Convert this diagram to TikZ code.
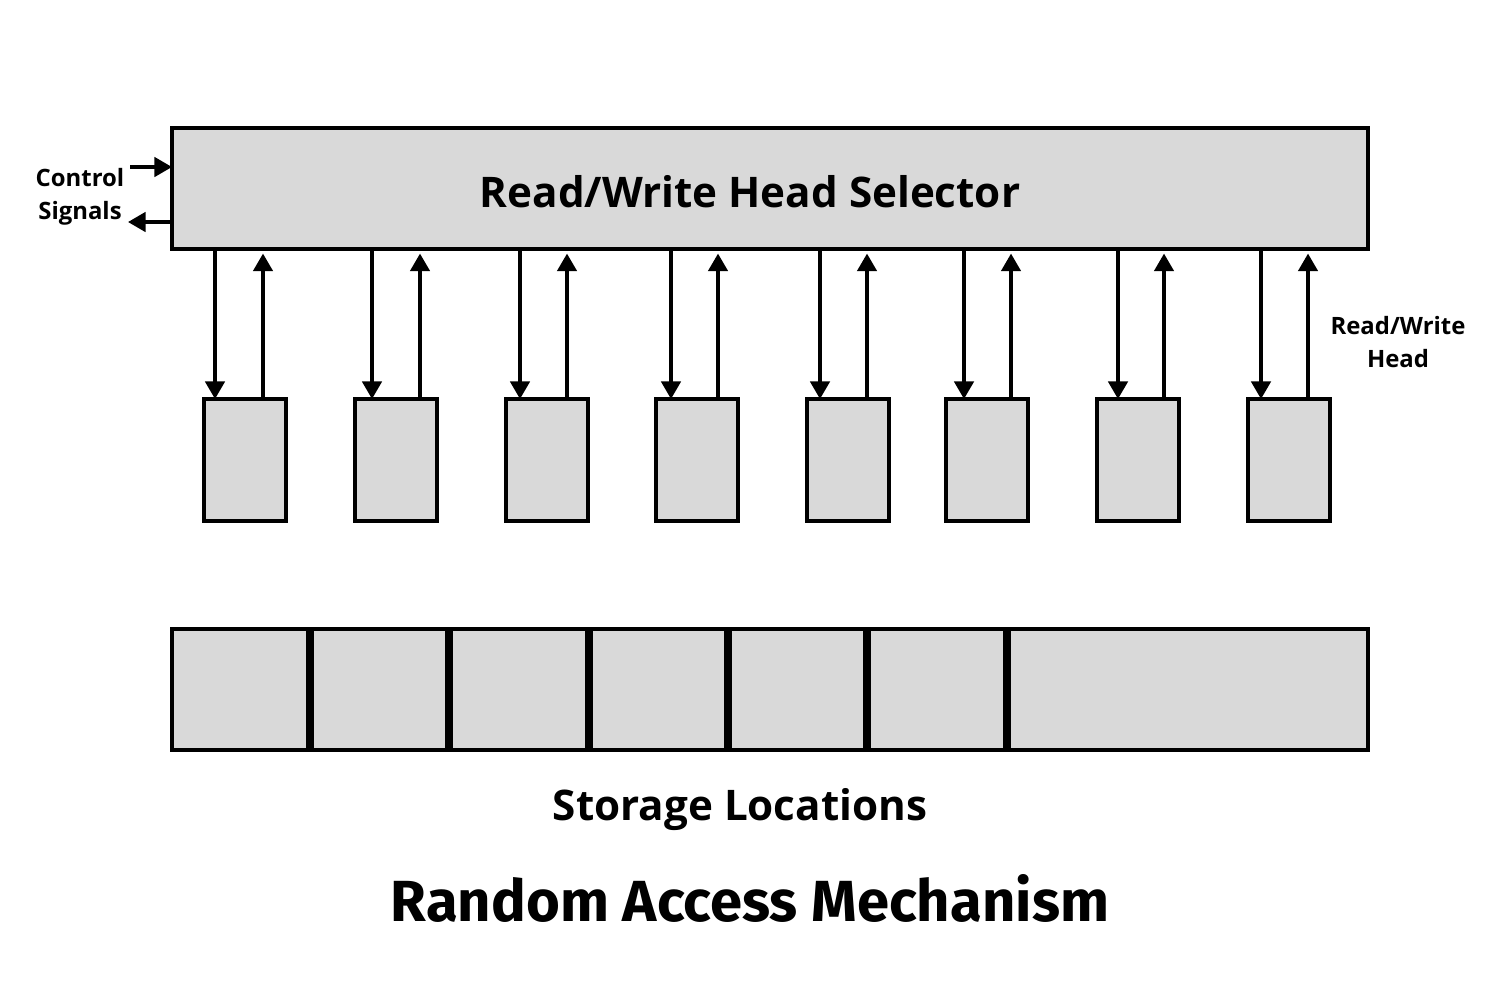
\documentclass[tikz,border=0pt]{standalone}
\usepackage{fontspec}
\setmainfont{Open Sans}
\newfontfamily\titlefont{Fira Sans}
\usepackage{xcolor}
\usetikzlibrary{arrows.meta}
\definecolor{boxgray}{HTML}{D9D9D9}

\begin{document}
\begin{tikzpicture}[x=0.1mm,y=-0.1mm,
	box/.style={draw,fill=boxgray,line width=1pt,inner sep=0pt,outer sep=0pt,anchor=north west},
	small/.style={font=\bfseries\fontsize{6.8}{9.4}\selectfont,align=center},
	rw/.style={-{Triangle[length=5pt,width=5.5pt]},line width=1pt}]
	\useasboundingbox (0,0) rectangle (1500,1000);
	% selector
	\node[box,minimum width=119.6mm,minimum height=12.1mm] (sel) at (172,128) {};
	\node[font=\bfseries\fontsize{12}{14}\selectfont] (seltext) at (750,192) {Read/Write Head Selector};
	% control signals
	\node[small] (ctrl) at (80,197) {Control\\Signals};
	\coordinate (cin) at (130,167);
	\coordinate (cout) at (128,222);
	\draw[rw] (cin) -- (cin -| sel.west);
	\draw[rw] (cout -| sel.west) -- (cout);
	% heads
	\foreach \bx/\dx/\ux [count=\i] in {204/215/263, 355/372/420, 506/520/567, 656/671/718,
			807/820/867, 946/964/1011, 1097/1118/1164, 1248/1261/1308}
	{
		\node[box,minimum width=8.2mm,minimum height=12.2mm] (h\i) at (\bx,399) {};
		\draw[rw] (\dx,0 |- sel.south) -- (\dx,0 |- h\i.north);
		\draw[rw,shorten >=1.3pt] (\ux,0 |- h\i.north) -- (\ux,0 |- sel.south);
	}
	\node[small] (rwhead) at (1398,342) {Read/Write\\Head};
	% storage
	\foreach \sx/\sw [count=\i] in {172/13.6, 312/13.5, 451/13.6, 591/13.5, 730/13.5, 869/13.6, 1009/35.9}
		\node[box,minimum width=\sw mm,minimum height=12.1mm] (s\i) at (\sx,629) {};
	\node[font=\bfseries\fontsize{12}{14}\selectfont] (stor) at (740,810) {Storage Locations};
	\node[font=\titlefont\bfseries\fontsize{16.5}{19}\selectfont] (title) at (750,898) {Random Access Mechanism};
\end{tikzpicture}
\end{document}
